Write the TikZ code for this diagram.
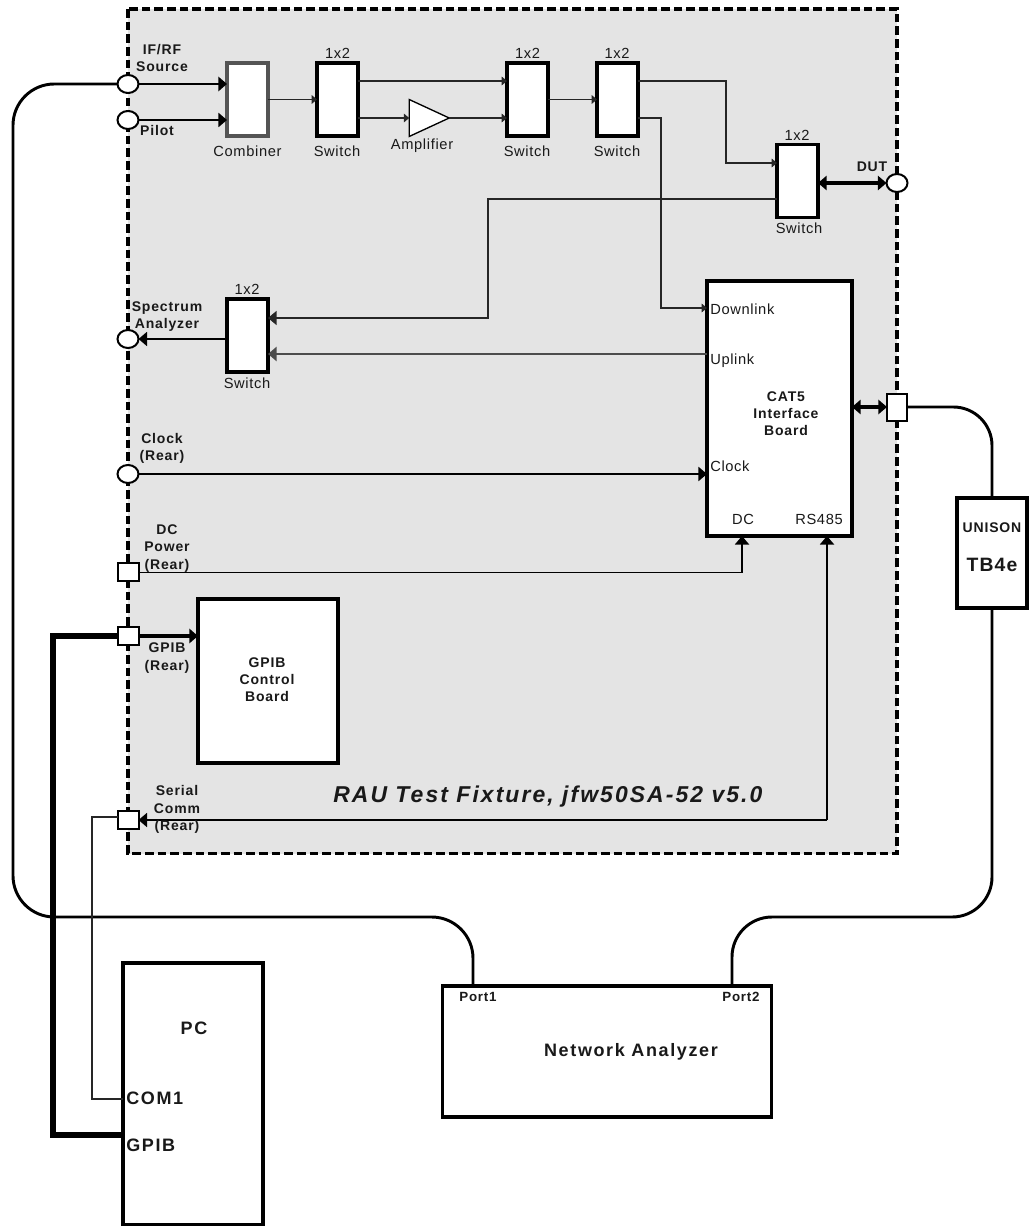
\documentclass[tikz,border=0pt]{standalone}
\usepackage{fontspec}
\usetikzlibrary{arrows.meta,shapes.geometric,calc}
\newfontfamily\rgf[LetterSpace=4.5]{Liberation Sans}
\newfontfamily\bdf[LetterSpace=6]{Liberation Sans}
\newfontfamily\bdlf[LetterSpace=9]{Liberation Sans}
\tikzset{
  lab/.style={font=\rgf\fontsize{11}{12.75}\selectfont,text=black!90,inner sep=0pt,align=center},
  blab/.style={font=\bdf\bfseries\fontsize{10.5}{12.9}\selectfont,text=black!90,inner sep=0pt,align=center},
  blabl/.style={font=\bdlf\bfseries\fontsize{13.5}{16}\selectfont,text=black!90,inner sep=0pt,align=center},
  ptlab/.style={font=\bdf\bfseries\fontsize{10}{11}\selectfont,text=black!90,inner sep=0pt,align=center},
  titlelab/.style={font=\bdlf\bfseries\itshape\fontsize{17.2}{19}\selectfont,text=black!90,inner sep=0pt,anchor=west},
  wh/.style 2 args={minimum width=#1*0.75pt,minimum height=#2*0.75pt,inner sep=0pt,outer sep=0pt},
  swbox/.style={draw=black,line width=2.5pt,fill=white,wh={41}{73}},
  bigbox/.style={draw=black,line width=2.3pt,fill=white},
  combbox/.style={draw=black!67,line width=2.4pt,fill=white,wh={41}{73}},
  roundport/.style={ellipse,draw=black,line width=1.5pt,fill=white,wh={21}{18}},
  sqport/.style={rectangle,draw=black,line width=1.5pt,fill=white,wh={21}{18}},
  thin wire/.style={draw=black!85,line width=0.85pt},
  mid wire/.style={draw=black,line width=1.4pt},
  heavy wire/.style={draw=black,line width=2.2pt},
  cable/.style={draw=black,line width=2.2pt},
  tiny/.style={-{Triangle[length=4pt,width=6.5pt]}},
  big/.style={-{Triangle[length=6.4pt,width=10.5pt]}},
  bigboth/.style={{Triangle[length=6.4pt,width=10.5pt]}-{Triangle[length=6.4pt,width=10.5pt]}},
}
\begin{document}
\begin{tikzpicture}[x=0.75pt,y=-0.75pt]
\useasboundingbox (0,0) rectangle (1029,1226);
% fixture
\draw[fill=black!10.5,draw=black,line width=2.4pt,dash pattern=on 6.5pt off 3pt] (128,9) rectangle (897,853.5);
% level coordinates
\coordinate (lt) at (0,81);
\coordinate (lb) at (0,118);
\coordinate (bendA) at (726,163);
\coordinate (bendB) at (661,308);
\coordinate (bendC) at (488,199);
\coordinate (bendD) at (488,318);
\coordinate (uplink) at (0,354);
\coordinate (dcbend) at (742,572.5);
\coordinate (rsbend) at (827,820);
\coordinate (comA) at (92,817);
\coordinate (comB) at (92,1099);
\coordinate (gpA) at (53,636);
\coordinate (gpB) at (53,1135);
\coordinate (cabL) at (13,917);
\coordinate (cabM) at (473,917);
\coordinate (cabN) at (732,917);
% boxes
\node[combbox] (comb) at (247.5,99.5) {};
\node[swbox] (swa) at (337.5,99.5) {};
\node[swbox] (swb) at (527.5,99.5) {};
\node[swbox] (swc) at (617.5,99.5) {};
\node[swbox] (swd) at (797.5,181) {};
\node[swbox] (swe) at (247.5,335.5) {};
\node[bigbox,wh={145}{255}] (cat) at (779.5,408.5) {};
\node[bigbox,wh={140}{164}] (gpb) at (268,681) {};
\node[bigbox,wh={70}{110}] (uni) at (992,553) {};
\node[bigbox,wh={140}{262}] (pc) at (193,1094) {};
\node[bigbox,wh={329}{131},anchor=west] (na) at (442.5,1051.5) {};
\node[isosceles triangle,isosceles triangle apex angle=50,isosceles triangle stretches,draw=black,line width=1pt,fill=white,wh={37}{40}] (amp) at (421,118) {};
% ports
\node[roundport] (pif) at (128,84) {};
\node[roundport] (ppi) at (128,120) {};
\node[roundport] (psa) at (128,339) {};
\node[roundport] (pcl) at (128,474) {};
\node[roundport] (pdut) at (897,183) {};
\node[sqport] (pdc) at (128,572) {};
\node[sqport] (pgp) at (128,636) {};
\node[sqport] (pse) at (128,820) {};
\node[sqport,wh={20}{27}] (pcat) at (897,407) {};
% connectors in fixture
\draw[heavy wire,big] (pif.east) -- (comb.west |- pif.east);
\draw[mid wire,big] (ppi.east) -- (comb.west |- ppi.east);
\draw[thin wire,tiny] (comb.east) -- (swa.west);
\draw[thin wire,tiny] (swa.east |- lt) -- (swb.west |- lt);
\draw[thin wire,tiny] (swa.east |- lb) -- (amp.west);
\draw[thin wire,tiny] (amp.east) -- (swb.west |- lb);
\draw[thin wire,tiny] (swb.east) -- (swc.west);
\draw[thin wire,tiny] (swc.east |- lt) -- (bendA |- lt) -- (bendA) -- (swd.west |- bendA);
\draw[thin wire,tiny] (swc.east |- lb) -- (bendB |- lb) -- (bendB) -- (cat.west |- bendB);
\draw[thin wire,big] (swd.west |- bendC) -- (bendC) -- (bendD) -- (swe.east |- bendD);
\draw[draw=black!70,line width=1.5pt,big] (cat.west |- uplink) -- (swe.east |- uplink);
\draw[mid wire,big] (swe.west |- psa.east) -- (psa.east);
\draw[heavy wire,line width=2.6pt,bigboth] (swd.east |- pdut.west) -- (pdut.west);
\draw[heavy wire,line width=2.6pt,bigboth] (cat.east |- pcat.west) -- (pcat.west);
\draw[mid wire,big] (pcl.east) -- (cat.west |- pcl.east);
\draw[mid wire,big] (pdc.east |- dcbend) -- (dcbend) -- (dcbend |- cat.south);
\draw[heavy wire,line width=2.6pt,big] (pgp.east) -- (gpb.west |- pgp.east);
\draw[mid wire,big] (rsbend) -- (rsbend |- cat.south);
\draw[mid wire,big] (rsbend) -- (pse.east);
% external
\draw[cable,rounded corners=31pt] (pif.west) -- (cabL |- pif.west) -- (cabL) -- (cabM) -- (cabM |- na.north);
\draw[cable,rounded corners=29pt] (pcat.east) -- (uni.north |- pcat.east) -- (uni.north);
\draw[cable,rounded corners=30pt] (uni.south) -- (uni.south |- cabN) -- (cabN) -- (cabN |- na.north);
\draw[thin wire,line width=1.2pt] (pse.west |- comA) -- (comA) -- (comB) -- (pc.west |- comB);
\draw[draw=black,line width=3.8pt] (pgp.west) -- (gpA) -- (gpB) -- (pc.west |- gpB);
% labels
\node[blab] (tif) at (162,58) {IF/RF\\Source};
\node[blab] (tpi) at (157,131) {Pilot};
\node[lab] (tcomb) at (247.5,151) {Combiner};
\node[lab] (tswa) at (337,151) {Switch};
\node[lab] (tamp) at (422,146) {Amplifier};
\node[lab] (tswb) at (527,151) {Switch};
\node[lab] (tswc) at (617,151) {Switch};
\node[lab] (tswd) at (799,228) {Switch};
\node[lab] (tswe) at (247,383) {Switch};
\node[lab] (xa) at (337.5,53.5) {1x2};
\node[lab] (xb) at (527.5,53.5) {1x2};
\node[lab] (xc) at (617,53.5) {1x2};
\node[lab] (xd) at (797,135) {1x2};
\node[lab] (xe) at (247,289.5) {1x2};
\node[blab] (tdut) at (872,167) {DUT};
\node[blab] (tsa) at (167,316.5) {Spectrum\\Analyzer};
\node[blab] (tcl) at (162,448.5) {Clock\\(Rear)};
\node[blab] (tdc) at (167,548.5) {DC\\Power\\(Rear)};
\node[blab] (tgp) at (167,658) {GPIB\\(Rear)};
\node[blab] (tse) at (177,809.5) {Serial\\Comm\\(Rear)};
\node[blab] (tgb) at (267,679.5) {GPIB\\Control\\Board};
\node[blab] (tcat) at (786,413.5) {CAT5\\Interface\\Board};
\node[lab,anchor=west] (tdl) at (710,309) {Downlink};
\node[lab,anchor=west] (tul) at (710,361) {Uplink};
\node[lab,anchor=west] (tck) at (710,466) {Clock};
\node[lab] (tdcc) at (743,519) {DC};
\node[lab] (trs) at (819,519) {RS485};
\node[blab] (tun) at (992,528) {UNISON};
\node[blabl,font=\bdf\bfseries\fontsize{14.5}{16}\selectfont] (ttb) at (992,565) {TB4e};
\node[blabl] (tpc) at (194,1028) {PC};
\node[blabl,anchor=west] (tcom) at (126,1098) {COM1};
\node[blabl,anchor=west] (tgpib) at (126,1145) {GPIB};
\node[ptlab] (tp1) at (478,997) {Port1};
\node[ptlab] (tp2) at (741,997) {Port2};
\node[blabl] (tna) at (631,1052) {Network Analyzer};
\node[titlelab] (ttl) at (333,797) {RAU Test Fixture, jfw50SA-52 v5.0};
\end{tikzpicture}
\end{document}
